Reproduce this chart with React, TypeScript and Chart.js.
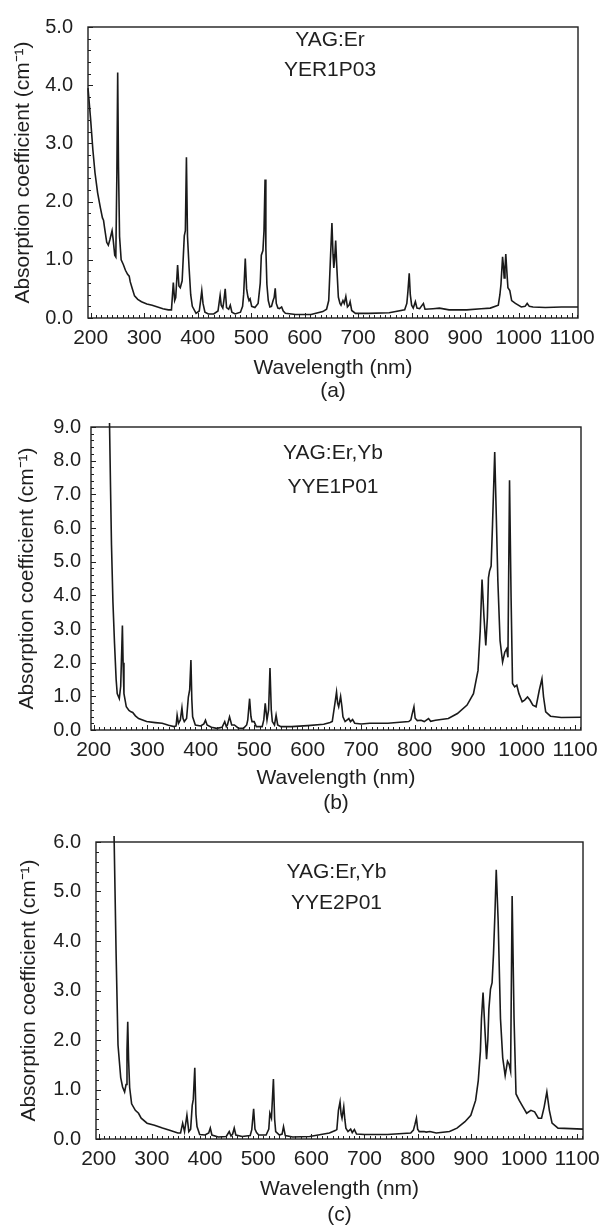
import React, { useEffect, useRef } from 'react';
import { Chart, registerables } from 'chart.js';

Chart.register(...registerables);

// ---------------- data ----------------
const X_TITLE = 'Wavelength (nm)';
const Y_TITLE = 'Absorption coefficient (cm\u207B\u00B9)';
const xTickValues = [200, 300, 400, 500, 600, 700, 800, 900, 1000, 1100];
const X_MIN = 195;
const X_MAX = 1111;
const X_MINOR_STEP = 10;
const Y_MINOR_STEP = 0.2;

const yTicksA = [0, 1, 2, 3, 4, 5];
const yTicksB = [0, 1, 2, 3, 4, 5, 6, 7, 8, 9];
const yTicksC = [0, 1, 2, 3, 4, 5, 6];

const panelTags = ['(a)', '(b)', '(c)'];
const hostLabels = ['YAG:Er', 'YAG:Er,Yb', 'YAG:Er,Yb'];
const sampleLabels = ['YER1P03', 'YYE1P01', 'YYE2P01'];

// [wavelength nm, absorption coefficient cm^-1]
const spectrumA: [number, number][] = [
  [195, 3.95], [200, 3.4], [204, 2.9], [208, 2.5], [213, 2.15], [218, 1.9], [222, 1.72], [224, 1.68],
  [226, 1.55], [230, 1.3], [233, 1.25], [236, 1.35], [240, 1.5], [242, 1.35], [245, 1.08], [247, 1.05],
  [249, 2.5], [250.5, 4.22], [252, 2.6], [254, 1.4], [257, 1.0], [261, 0.92], [265, 0.82], [269, 0.75],
  [272, 0.72], [274, 0.62], [278, 0.5], [282, 0.38], [288, 0.32], [295, 0.28], [305, 0.24], [315, 0.22],
  [325, 0.19], [335, 0.16], [345, 0.14], [351, 0.14], [354.5, 0.61], [357, 0.3], [359, 0.35], [362.5, 0.91],
  [365, 0.55], [367.5, 0.52], [371, 0.64], [375, 1.41], [377, 1.5], [379, 2.76], [381, 1.4], [384, 0.86],
  [387, 0.4], [390, 0.2], [397, 0.08], [403, 0.12], [405.5, 0.3], [407.7, 0.47], [410, 0.25], [413.6, 0.1],
  [420, 0.07], [430, 0.07], [438, 0.12], [442, 0.39], [444, 0.22], [447, 0.17], [449, 0.3], [451.5, 0.5],
  [454, 0.18], [458, 0.15], [461, 0.22], [464, 0.1], [470, 0.07], [480, 0.1], [484, 0.2], [486, 0.41],
  [489, 1.02], [491.5, 0.5], [494, 0.36], [496, 0.3], [498, 0.33], [501, 0.2], [507, 0.18], [513, 0.25],
  [517, 0.6], [519, 1.08], [522, 1.16], [524, 1.5], [526, 2.38], [527.5, 1.2], [529.4, 0.58], [532, 0.3],
  [535, 0.19], [538, 0.2], [541, 0.3], [543, 0.35], [545, 0.51], [547, 0.25], [550, 0.17], [553, 0.16],
  [557, 0.19], [560, 0.12], [564, 0.08], [583, 0.06], [612, 0.06], [634, 0.11], [641, 0.15], [645, 0.3],
  [648, 0.97], [651, 1.63], [653, 1.1], [654.5, 0.86], [656, 1.0], [658, 1.33], [660, 0.9], [663, 0.36],
  [666, 0.25], [668, 0.22], [671.6, 0.3], [674, 0.25], [677, 0.37], [680, 0.19], [683, 0.22], [685, 0.28],
  [688, 0.13], [695, 0.08], [720, 0.08], [758, 0.09], [787, 0.14], [791, 0.25], [793, 0.45], [795.5, 0.77],
  [797.5, 0.4], [800, 0.22], [803, 0.17], [807, 0.28], [810, 0.17], [815, 0.16], [818, 0.2], [822, 0.25],
  [825, 0.15], [840, 0.16], [852, 0.17], [870, 0.14], [903, 0.14], [930, 0.16], [947, 0.17], [962, 0.22],
  [965, 0.4], [967, 0.58], [970, 1.05], [971.5, 0.9], [973, 0.69], [974.5, 0.85], [976, 1.1], [978, 0.8],
  [980, 0.52], [983.5, 0.47], [987, 0.3], [994, 0.25], [1005, 0.19], [1012, 0.2], [1016, 0.25], [1020, 0.2],
  [1027, 0.19], [1050, 0.18], [1080, 0.19], [1111, 0.19],
];

const spectrumB: [number, number][] = [
  [229.6, 9.12], [231.5, 7.2], [233.3, 5.5], [236, 3.8], [239, 2.56], [242, 1.5], [244, 1.08], [247.9, 0.93],
  [250.5, 1.3], [252.5, 2.4], [253.7, 3.1], [255, 2.0], [256.6, 1.08], [261, 0.69], [266, 0.58], [269.8, 0.54],
  [273, 0.52], [278, 0.42], [284, 0.34], [299, 0.25], [315, 0.22], [328, 0.2], [340, 0.14], [350, 0.1],
  [354, 0.12], [356, 0.44], [358.5, 0.2], [362, 0.3], [365, 0.66], [367, 0.35], [369.4, 0.25], [373.7, 0.34],
  [377, 0.98], [379.5, 1.2], [381.8, 2.08], [383.5, 0.9], [385, 0.39], [390, 0.15], [400, 0.12], [406, 0.18],
  [409, 0.29], [412, 0.15], [420, 0.08], [430, 0.05], [440, 0.08], [445, 0.25], [448, 0.1], [450, 0.15],
  [454, 0.39], [458, 0.15], [463, 0.15], [470, 0.06], [480, 0.05], [486, 0.15], [488, 0.29], [491.5, 0.93],
  [494, 0.4], [496, 0.25], [500, 0.25], [504, 0.1], [515, 0.1], [518, 0.3], [520.7, 0.79], [524, 0.3],
  [527, 0.6], [529.6, 1.84], [532, 0.6], [534, 0.25], [538, 0.15], [541, 0.44], [544, 0.15], [550, 0.1],
  [570, 0.1], [600, 0.13], [630, 0.17], [642, 0.22], [646, 0.25], [651, 0.79], [654, 1.13], [656, 0.8],
  [658, 0.69], [661.6, 1.0], [664, 0.7], [666, 0.39], [670, 0.25], [677, 0.34], [680, 0.25], [684, 0.31],
  [688, 0.2], [700, 0.18], [716, 0.2], [750, 0.2], [789, 0.25], [793, 0.3], [795, 0.45], [798.7, 0.69],
  [801, 0.35], [805, 0.28], [812, 0.29], [818, 0.25], [826, 0.34], [830, 0.26], [839, 0.29], [863, 0.34],
  [880, 0.49], [898, 0.74], [910, 1.08], [918.5, 1.77], [922.6, 2.95], [926, 4.47], [929.7, 3.34], [933, 2.51],
  [936, 3.34], [938, 4.52], [940, 4.72], [943, 4.87], [945.6, 6.1], [949.7, 8.26], [952.6, 6.39], [955.6, 4.42],
  [959.7, 2.65], [964.4, 2.02], [968.5, 2.31], [972, 2.41], [974.4, 2.16], [977.4, 7.42], [980.3, 3.93], [983, 1.38],
  [987, 1.28], [991, 1.33], [995, 1.08], [1001, 0.84], [1005.6, 0.89], [1011, 0.98], [1015.6, 0.89], [1021, 0.74],
  [1027, 0.69], [1033, 1.18], [1038, 1.52], [1041, 0.98], [1045, 0.54], [1054, 0.41], [1074, 0.37], [1111, 0.38],
];

const spectrumC: [number, number][] = [
  [229, 6.12], [230.8, 5.0], [232.8, 3.75], [236.4, 1.9], [241.5, 1.24], [245, 1.05], [248.8, 0.95], [251.5, 1.1],
  [253.3, 1.8], [254.7, 2.37], [256.3, 1.6], [258.3, 1.04], [262, 0.71], [269, 0.58], [275, 0.52], [280, 0.42],
  [291, 0.32], [305, 0.28], [320, 0.22], [335, 0.17], [349, 0.12], [354, 0.12], [358, 0.32], [361.5, 0.15],
  [366, 0.48], [369.6, 0.15], [373, 0.2], [376, 0.68], [378, 0.8], [380.8, 1.44], [383, 0.5], [385, 0.25],
  [390, 0.09], [400, 0.08], [407, 0.12], [410, 0.22], [413, 0.08], [425, 0.04], [440, 0.05], [445.6, 0.15],
  [449, 0.06], [452, 0.1], [455, 0.22], [458, 0.08], [470, 0.05], [485, 0.07], [488, 0.19], [491.5, 0.61],
  [494, 0.2], [497, 0.13], [501, 0.08], [515, 0.08], [520, 0.2], [522, 0.52], [525, 0.42], [528.7, 1.21],
  [531, 0.4], [533, 0.15], [540, 0.08], [545, 0.1], [547.7, 0.25], [551, 0.07], [565, 0.04], [597, 0.05],
  [634, 0.12], [645, 0.17], [648, 0.19], [651, 0.58], [654, 0.75], [656, 0.5], [657.7, 0.42], [661, 0.65],
  [663, 0.4], [665, 0.22], [669, 0.15], [674, 0.2], [677, 0.13], [681, 0.19], [685, 0.1], [700, 0.09],
  [743, 0.09], [787, 0.12], [792, 0.18], [795, 0.3], [797.7, 0.42], [800, 0.2], [803, 0.15], [812, 0.15],
  [816, 0.14], [823, 0.15], [835, 0.12], [860, 0.15], [874, 0.22], [889, 0.35], [900, 0.48], [909, 0.78],
  [914, 1.18], [918, 1.77], [920, 2.43], [923, 2.96], [926.7, 2.17], [929.6, 1.61], [932, 2.0], [934, 2.63],
  [937, 3.03], [940, 3.16], [942.7, 3.75], [945.5, 4.6], [947.8, 5.44], [951.4, 4.41], [955.8, 2.43], [960, 1.64],
  [964.6, 1.28], [969, 1.57], [972, 1.51], [974.8, 1.37], [977.7, 4.91], [981.3, 2.43], [985, 0.91], [991, 0.78],
  [998, 0.65], [1005, 0.52], [1013, 0.58], [1020, 0.55], [1027, 0.42], [1033, 0.42], [1038, 0.65], [1043, 0.95],
  [1047.7, 0.58], [1052.8, 0.32], [1064, 0.22], [1111, 0.2],
];

// ---------------- layout / style ----------------
const FONT = '"Liberation Sans", Arial, Helvetica, sans-serif';
const INK = '#1f1f1f';

type Layout = {
  top: number; height: number;
  plotLeft: number; plotRight: number; plotTop: number; plotBottom: number;
  yLabelPad: number; yTitlePad: number; titleLine: number;
  noteY: [number, number];
};

// plotTop / plotBottom are in canvas coordinates
const layouts: Layout[] = [
  { top: 0, height: 403, plotLeft: 88, plotRight: 578, plotTop: 16, plotBottom: 318, yLabelPad: 15, yTitlePad: 11, titleLine: 23, noteY: [40, 70] },
  { top: 405, height: 411, plotLeft: 91, plotRight: 581, plotTop: 19, plotBottom: 325, yLabelPad: 10, yTitlePad: 15, titleLine: 25, noteY: [48, 82] },
  { top: 815, height: 413, plotLeft: 96, plotRight: 586, plotTop: 19, plotBottom: 324, yLabelPad: 15, yTitlePad: 17, titleLine: 26, noteY: [57, 88] },
];

const panels = [
  { spectrum: spectrumA, yTicks: yTicksA },
  { spectrum: spectrumB, yTicks: yTicksB },
  { spectrum: spectrumC, yTicks: yTicksC },
];

function Panel({ index }: { index: number }) {
  const ref = useRef<HTMLCanvasElement | null>(null);
  const L = layouts[index];
  const P = panels[index];

  useEffect(() => {
    if (!ref.current) return;
    const yMax = P.yTicks[P.yTicks.length - 1];

    const framePlugin = {
      id: 'frameAndNotes',
      afterDatasetsDraw(chart: any) {
        const { ctx, chartArea, scales } = chart;
        const { left, right, top, bottom } = chartArea;
        const xs = scales.x;
        const ys = scales.y;
        ctx.save();
        ctx.strokeStyle = INK;
        ctx.lineWidth = 1.4;
        ctx.strokeRect(left, top, right - left, bottom - top);
        ctx.lineWidth = 1;
        ctx.beginPath();
        for (let v = xTickValues[0]; v <= X_MAX; v += X_MINOR_STEP) {
          const px = Math.round(xs.getPixelForValue(v)) + 0.5;
          const len = v % 100 === 0 ? 5 : 3;
          ctx.moveTo(px, bottom);
          ctx.lineTo(px, bottom - len);
        }
        for (let k = 0; k * Y_MINOR_STEP <= yMax + 1e-9; k++) {
          const v = k * Y_MINOR_STEP;
          const py = Math.round(ys.getPixelForValue(v)) + 0.5;
          const len = Math.abs(v - Math.round(v)) < 1e-6 ? 5 : 3;
          ctx.moveTo(left, py);
          ctx.lineTo(left + len, py);
        }
        ctx.stroke();
        // sample annotations
        ctx.fillStyle = INK;
        ctx.font = `21px ${FONT}`;
        ctx.textAlign = 'center';
        ctx.textBaseline = 'middle';
        const cx = (left + right) / 2 - 3;
        ctx.fillText(hostLabels[index], cx, L.noteY[0]);
        ctx.fillText(sampleLabels[index], cx, L.noteY[1]);
        ctx.restore();
      },
    };

    const chart = new Chart(ref.current, {
      type: 'line',
      data: {
        datasets: [
          {
            data: P.spectrum.map(([x, y]) => ({ x, y })),
            borderColor: '#1a1a1a',
            borderWidth: 1.6,
            pointRadius: 0,
            tension: 0,
            fill: false,
            clip: false as any,
          },
        ],
      },
      options: {
        responsive: false,
        animation: false,
        devicePixelRatio: 1,
        events: [],
        layout: {
          padding: { left: 0, top: L.plotTop, right: 608 - L.plotRight, bottom: 0 },
        },
        plugins: {
          legend: { display: false },
          tooltip: { enabled: false },
        },
        scales: {
          x: {
            type: 'linear',
            min: X_MIN,
            max: X_MAX,
            afterBuildTicks: (s: any) => {
              s.ticks = xTickValues.map((value) => ({ value }));
            },
            afterFit: (s: any) => {
              s.height = L.height - L.plotBottom;
            },
            grid: { display: false, drawTicks: false },
            border: { display: false },
            ticks: {
              autoSkip: false,
              maxRotation: 0,
              padding: 8,
              color: INK,
              font: { family: FONT, size: 21 },
              callback: (v: any) => String(v),
            },
            title: {
              display: true,
              text: [X_TITLE, panelTags[index]],
              color: INK,
              font: { family: FONT, size: 21, lineHeight: L.titleLine / 21 },
              padding: { top: 0, bottom: 0 },
            },
          },
          y: {
            type: 'linear',
            min: 0,
            max: yMax,
            afterBuildTicks: (s: any) => {
              s.ticks = P.yTicks.map((value) => ({ value }));
            },
            afterFit: (s: any) => {
              s.width = L.plotLeft;
            },
            grid: { display: false, drawTicks: false },
            border: { display: false },
            ticks: {
              padding: L.yLabelPad,
              color: INK,
              font: { family: FONT, size: 20 },
              callback: (v: any) => Number(v).toFixed(1),
            },
            title: {
              display: true,
              text: Y_TITLE,
              color: INK,
              font: { family: FONT, size: 21, lineHeight: 1.2 },
              padding: { top: L.yTitlePad, bottom: 0 },
            },
          },
        },
      },
      plugins: [framePlugin],
    } as any);

    return () => chart.destroy();
  }, [index]);

  return (
    <canvas
      ref={ref}
      width={608}
      height={L.height}
      style={{ position: 'absolute', left: 0, top: L.top, width: 608, height: L.height }}
    />
  );
}

export default function App() {
  return (
    <div
      style={{
        position: 'absolute',
        left: 0,
        top: 0,
        width: 608,
        height: 1225,
        overflow: 'hidden',
        background: '#ffffff',
      }}
    >
      <Panel index={0} />
      <Panel index={1} />
      <Panel index={2} />
    </div>
  );
}
